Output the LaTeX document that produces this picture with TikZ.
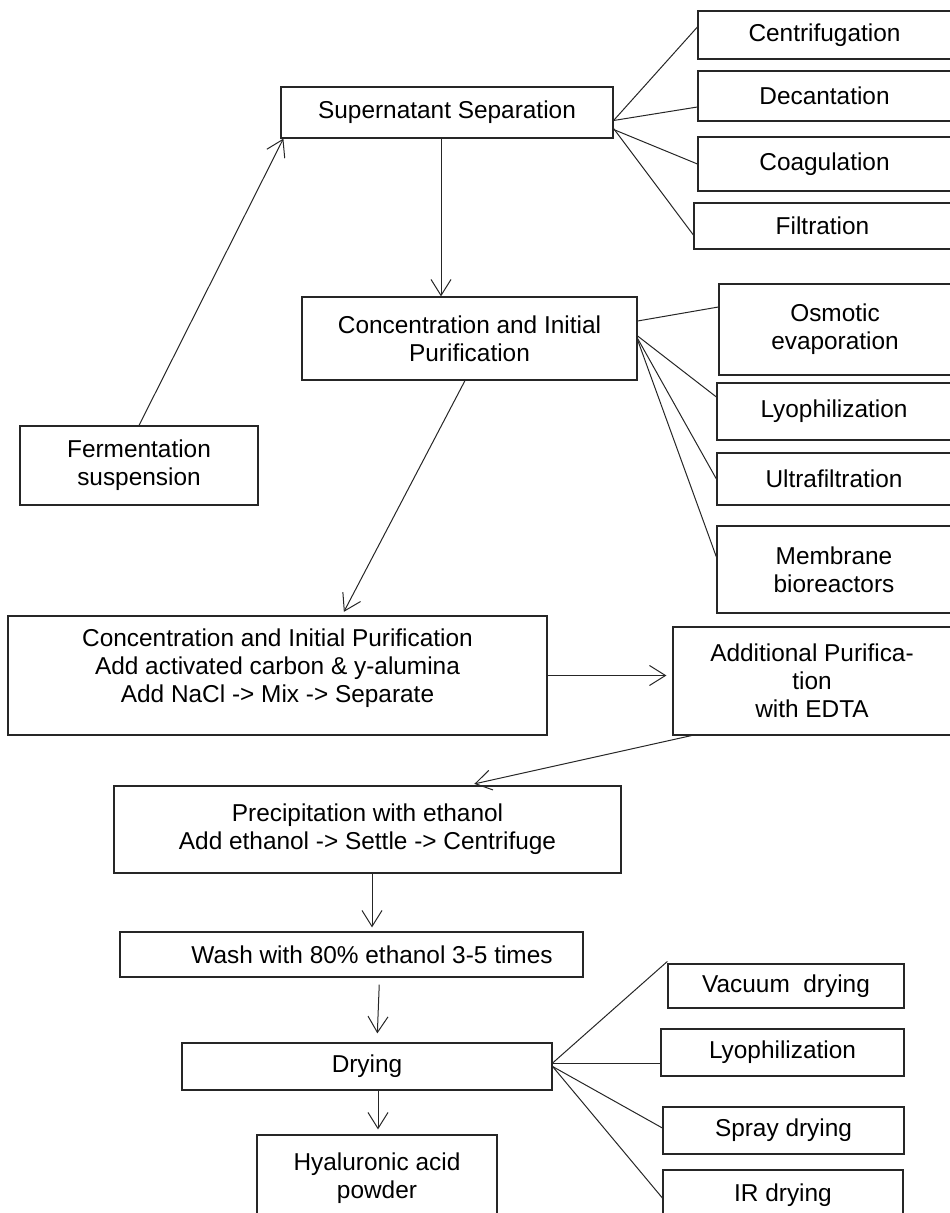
\documentclass[tikz,border=0pt]{standalone}
\usepackage{fontspec}
\setmainfont{Liberation Sans}
\usetikzlibrary{arrows.meta}
\begin{document}
\begin{tikzpicture}[x=0.5pt, y=-0.5pt,
% common options for the boxes:
box/.style = {draw=black!85, rectangle, align=center, inner sep=0, line width=0.6pt},
% common options for lines and arrows:
link/.style = {draw=black!85, line width=0.5pt},
>={Straight Barb[length=8pt,width=10pt]},
font=\fontsize{12.2}{14}\selectfont]
\useasboundingbox (0,0) rectangle (949,1213);
% separation of the supernatant
\node[box, minimum width=166pt, minimum height=25.5pt] (sup) at (447,112.5) {Supernatant Separation};
\node[box, minimum width=126.5pt, minimum height=24pt] (cent) at (824.5,35) {Centrifugation};
\node[box, minimum width=126.5pt, minimum height=25pt] (dec) at (824.5,96) {Decantation};
\node[box, minimum width=126.5pt, minimum height=27pt] (coag) at (824.5,164) {Coagulation};
\node[box, minimum width=128.5pt, minimum height=23pt] (filt) at (822.5,226) {Filtration};
% concentration
\node[box, minimum width=167.5pt, minimum height=41.5pt] (conc) at (469.5,338.5) {Concentration and Initial\\Purification};
\node[box, minimum width=116pt, minimum height=45.5pt] (osm) at (835,329.5) {Osmotic\\evaporation};
\node[box, minimum width=117pt, minimum height=28.5pt] (lyo) at (834,411.5) {Lyophilization};
\node[box, minimum width=117pt, minimum height=26pt] (ultra) at (834,479) {Ultrafiltration};
\node[box, minimum width=117pt, minimum height=43.5pt] (memb) at (834,569.5) {Membrane\\bioreactors};
\node[box, minimum width=119pt, minimum height=39.5pt] (ferm) at (139,465.5) {Fermentation\\suspension};
% purification and precipitation
\node[box, minimum width=269.5pt, minimum height=59.5pt] (conctwo) at (277.5,675.5) {};
\node[align=center, inner sep=0] (conctxt) at ([yshift=3.75pt]conctwo.center) {Concentration and Initial Purification\\Add activated carbon \& y-alumina\\Add NaCl -> Mix -> Separate};
\node[box, minimum width=139pt, minimum height=54pt] (add) at (812,681) {Additional Purifica-\\tion\\with EDTA};
\node[box, minimum width=253.5pt, minimum height=43.5pt] (prec) at (367.5,829.5) {Precipitation with ethanol\\Add ethanol -> Settle -> Centrifuge};
\node[box, minimum width=231.5pt, minimum height=22.5pt] (wash) at (351.5,954.5) {};
\node[inner sep=0] (washtxt) at ([xshift=10.25pt]wash.center) {Wash with 80\% ethanol 3-5 times};
% drying
\node[box, minimum width=185pt, minimum height=23.5pt] (dry) at (367,1066.5) {Drying};
\node[box, minimum width=120pt, minimum height=43.5pt] (hya) at (377,1178.5) {Hyaluronic acid\\powder};
\node[box, minimum width=118pt, minimum height=22pt] (vac) at (786,986) {Vacuum\ \ drying};
\node[box, minimum width=121.5pt, minimum height=23.5pt] (lyob) at (782.5,1052.5) {Lyophilization};
\node[box, minimum width=120.5pt, minimum height=23.5pt] (spray) at (783.5,1130.5) {Spray drying};
\node[box, minimum width=120pt, minimum height=25pt] (ir) at (783,1195) {IR drying};
% branches
\draw[link] ([yshift=-4pt]sup.east) to ([yshift=4pt]cent.west);
\draw[link] ([yshift=-4pt]sup.east) to ([yshift=-5.5pt]dec.west);
\draw[link] ([yshift=-8.5pt]sup.east) to (coag.west);
\draw[link] ([yshift=-8pt]sup.east) to ([yshift=-4.5pt]filt.west);
\draw[link] ([yshift=8.75pt]conc.east) to ([yshift=11.25pt]osm.west);
\draw[link] ([yshift=1.25pt]conc.east) to ([yshift=7.25pt]lyo.west);
\draw[link] (conc.east) to (ultra.west);
\draw[link] ([yshift=-0.75pt]conc.east) to ([yshift=6.25pt]memb.west);
\draw[link] ([yshift=1.75pt]dry.east) to ([yshift=1pt]vac.north west);
\draw[link] ([yshift=1.5pt]dry.east) to ([yshift=-5.5pt]lyob.west);
\draw[link] (dry.east) to ([yshift=1.25pt]spray.west);
\draw[link] (dry.east) to ([yshift=-1.5pt]ir.west);
% main flow
\draw[link,->] (ferm.north) to ([xshift=1.5pt]sup.south west);
\draw[link,->] ([xshift=-3pt]sup.south) to ([xshift=-3pt]sup.south |- conc.north);
\draw[link,->,shorten >=2pt] ([xshift=-2.25pt]conc.south) to ([xshift=32.25pt]conctwo.north);
\draw[link,->,shorten >=3pt] (conctwo.east) to (conctwo.east -| add.west);
\draw[link,->,shorten >=3.5pt] ([xshift=9.5pt]add.south west) to ([xshift=50pt]prec.north);
\draw[link,->,shorten >=2pt] ([xshift=2.25pt]prec.south) to ([xshift=2.25pt]prec.south |- wash.north);
\draw[link,->,shorten <=3.5pt,shorten >=4.5pt] ([xshift=14pt]wash.south) to ([xshift=5pt]dry.north);
\draw[link,->,shorten >=2.5pt] ([xshift=5.5pt]dry.south) to ([xshift=5.5pt]dry.south |- hya.north);
\end{tikzpicture}
\end{document}
